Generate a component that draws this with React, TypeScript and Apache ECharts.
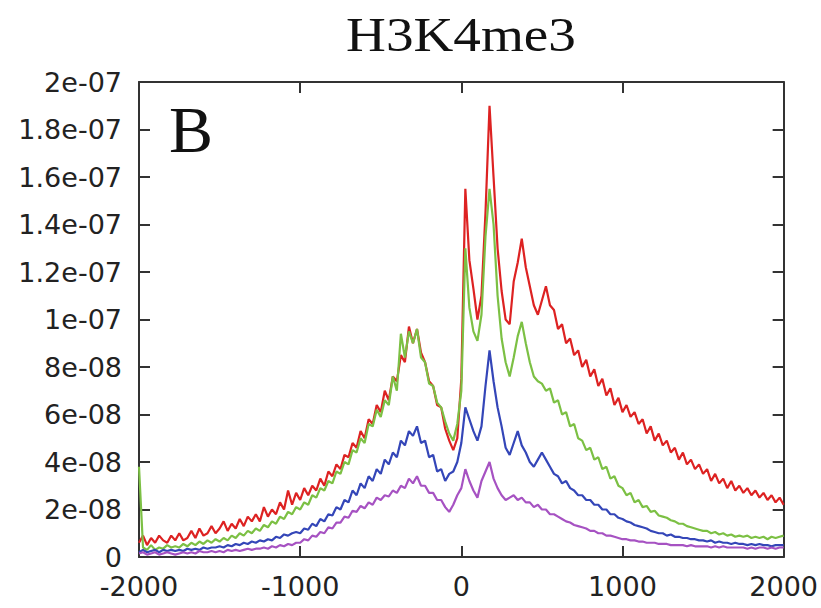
import React, { useEffect, useRef } from "react";
import * as echarts from "echarts";

// Position along the TSS (bp); samples every 25 bp from -2000 to 2000
const X_START = -2000;
const X_STEP = 25;
const X_TICKS = [-2000, -1000, 0, 1000, 2000];
// Signal values in units of 1e-8
const Y_TICK_LABELS = ["0", "2e-08", "4e-08", "6e-08", "8e-08", "1e-07", "1.2e-07", "1.4e-07", "1.6e-07", "1.8e-07", "2e-07"];

const RED = [
  0.6, 0.9, 0.5, 0.8, 0.6, 0.9, 0.7, 0.6, 0.9, 0.7,
  1.0, 0.7, 0.8, 1.1, 0.8, 1.2, 0.9, 1.0, 1.3, 1.0,
  1.2, 1.5, 1.1, 1.4, 1.2, 1.6, 1.3, 1.7, 1.5, 1.8,
  1.5, 2.1, 1.7, 2.0, 1.8, 2.3, 2.0, 2.8, 2.2, 2.7,
  2.4, 2.9, 2.6, 3.0, 2.8, 3.3, 3.0, 3.6, 3.4, 3.9,
  3.7, 4.3, 4.2, 4.8, 4.6, 5.3, 5.0, 5.8, 5.6, 6.4,
  6.1, 7.0, 6.6, 7.6, 7.4, 8.5, 8.2, 9.7, 9.0, 9.6,
  8.6, 8.2, 7.4, 7.2, 6.4, 6.3, 5.4, 4.9, 4.5, 5.0,
  7.5, 15.5, 12.5, 11.3, 10.0, 11.0, 14.5, 19.0, 16.0, 13.0,
  11.2, 10.0, 9.8, 11.6, 12.4, 13.4, 12.2, 11.4, 10.6, 10.2,
  10.8, 11.4, 10.6, 10.4, 9.6, 9.8, 9.0, 9.2, 8.5, 8.7,
  8.0, 8.3, 7.6, 7.9, 7.2, 7.5, 6.8, 7.1, 6.4, 6.7,
  6.1, 6.4, 5.9, 6.1, 5.6, 5.8, 5.2, 5.5, 4.9, 5.2,
  4.7, 4.9, 4.4, 4.6, 4.1, 4.4, 3.9, 4.1, 3.7, 3.9,
  3.5, 3.7, 3.2, 3.5, 3.1, 3.3, 2.9, 3.2, 2.8, 3.0,
  2.7, 2.9, 2.6, 2.8, 2.5, 2.7, 2.4, 2.6, 2.3, 2.5,
  2.2,
];

const GREEN = [
  3.8, 0.4, 0.3, 0.5, 0.3, 0.4, 0.35, 0.5, 0.4, 0.45,
  0.4, 0.55, 0.45, 0.6, 0.5, 0.65, 0.55, 0.7, 0.6, 0.75,
  0.65, 0.8, 0.7, 0.9, 0.8, 1.0, 0.9, 1.1, 1.0, 1.2,
  1.1, 1.35, 1.25, 1.5, 1.4, 1.7, 1.6, 1.9, 1.8, 2.1,
  2.0, 2.3, 2.2, 2.6, 2.5, 2.9, 2.8, 3.2, 3.1, 3.6,
  3.5, 4.0, 3.9, 4.5, 4.4, 5.0, 4.8, 5.6, 5.5, 6.2,
  5.9, 6.6, 6.4, 7.6, 7.0, 9.4, 8.4, 9.5, 9.0, 9.6,
  8.4, 8.2, 7.3, 7.2, 6.5, 6.3, 5.7, 5.2, 4.9, 5.6,
  7.0, 13.0, 10.5, 9.5, 9.1, 10.2, 13.5, 15.5, 14.0, 11.0,
  9.2, 8.2, 7.6, 8.4, 9.3, 9.9, 9.0, 8.2, 7.6, 7.4,
  7.3, 7.0, 7.1, 6.5, 6.6, 6.0, 6.1, 5.5, 5.6, 5.0,
  4.9, 4.5, 4.6, 4.1, 4.2, 3.7, 3.8, 3.3, 3.4, 3.0,
  2.9, 2.6, 2.7, 2.3, 2.4, 2.1, 2.15, 1.9, 1.95, 1.75,
  1.7, 1.65, 1.55, 1.5, 1.4, 1.4, 1.3, 1.25, 1.2, 1.15,
  1.1, 1.1, 1.0, 1.05, 0.95, 1.0, 0.9, 0.95, 0.85, 0.9,
  0.85, 0.9, 0.8, 0.85, 0.8, 0.85, 0.75, 0.85, 0.8, 0.85,
  0.9,
];

const BLUE = [
  0.2, 0.3, 0.2, 0.25, 0.3, 0.2, 0.3, 0.25, 0.3, 0.25,
  0.3, 0.25, 0.35, 0.3, 0.35, 0.3, 0.4, 0.35, 0.4, 0.4,
  0.45, 0.4, 0.5, 0.45, 0.55, 0.5, 0.6, 0.55, 0.65, 0.6,
  0.7, 0.65, 0.75, 0.7, 0.85, 0.8, 0.95, 0.9, 1.0, 1.05,
  1.0, 1.2, 1.15, 1.4, 1.3, 1.6, 1.5, 1.8, 1.75, 2.1,
  2.0, 2.4, 2.3, 2.8, 2.6, 3.1, 2.9, 3.4, 3.2, 3.7,
  3.5, 4.1, 3.9, 4.4, 4.2, 4.9, 4.7, 5.3, 5.1, 5.5,
  4.8, 4.9, 4.2, 4.3, 3.6, 3.7, 3.2, 3.5, 3.6, 4.0,
  4.8, 6.3, 5.8, 5.3, 4.9, 5.5, 7.2, 8.7, 7.4, 6.3,
  5.5, 4.6, 4.3, 4.8, 5.3, 4.7, 4.4, 4.0, 3.8, 4.1,
  4.4, 4.1, 3.8, 3.5, 3.4, 3.1, 3.2, 2.9, 2.8, 2.6,
  2.6, 2.4, 2.4, 2.2, 2.2, 2.0, 2.0, 1.8, 1.8, 1.65,
  1.6, 1.5, 1.45, 1.35, 1.3, 1.25, 1.2, 1.1, 1.05, 1.0,
  1.0, 0.9, 0.95, 0.85, 0.85, 0.8, 0.8, 0.75, 0.75, 0.7,
  0.7, 0.65, 0.7, 0.6, 0.65, 0.6, 0.6, 0.55, 0.6, 0.55,
  0.55, 0.5, 0.55, 0.5, 0.55, 0.5, 0.5, 0.45, 0.5, 0.5,
  0.5,
];

const PURPLE = [
  0.15, 0.2, 0.1, 0.15, 0.2, 0.1, 0.15, 0.2, 0.15, 0.1,
  0.15, 0.2, 0.15, 0.2, 0.15, 0.25, 0.2, 0.2, 0.25, 0.2,
  0.25, 0.2, 0.3, 0.25, 0.3, 0.25, 0.3, 0.35, 0.3, 0.35,
  0.35, 0.4, 0.35, 0.45, 0.4, 0.5, 0.45, 0.55, 0.5, 0.6,
  0.6, 0.75, 0.7, 0.9, 0.85, 1.05, 1.0, 1.25, 1.2, 1.45,
  1.45, 1.7, 1.65, 1.95, 1.9, 2.15, 2.05, 2.3, 2.2, 2.5,
  2.4, 2.6, 2.55, 2.8, 2.7, 3.0, 2.9, 3.3, 3.1, 3.4,
  3.0, 3.0, 2.7, 2.7, 2.4, 2.4, 2.1, 1.9, 2.2, 2.6,
  2.9, 3.7, 3.2, 2.8, 2.5, 3.2, 3.6, 4.0, 3.3, 2.9,
  2.6, 2.4, 2.5, 2.6, 2.4, 2.5, 2.3, 2.3, 2.1, 2.2,
  2.0, 2.0, 1.8, 1.8, 1.7, 1.6, 1.5, 1.45, 1.35, 1.3,
  1.25, 1.2, 1.1, 1.1, 1.0, 1.0, 0.9, 0.9, 0.85, 0.8,
  0.75, 0.75, 0.7, 0.7, 0.65, 0.65, 0.6, 0.6, 0.6, 0.55,
  0.55, 0.55, 0.5, 0.5, 0.5, 0.5, 0.45, 0.5, 0.45, 0.45,
  0.45, 0.45, 0.4, 0.45, 0.4, 0.45, 0.4, 0.4, 0.4, 0.4,
  0.4, 0.35, 0.4, 0.35, 0.4, 0.4, 0.35, 0.4, 0.35, 0.4,
  0.4,
];

const SERIES = [
  { name: "red", values: RED, color: "#dd2222" },
  { name: "green", values: GREEN, color: "#7cc044" },
  { name: "blue", values: BLUE, color: "#3446b8" },
  { name: "purple", values: PURPLE, color: "#a652c2" },
];

const AXIS_COLOR = "#333333";
const LABEL_FONT = "DejaVu Sans";
const LABEL_SIZE = 27;

export default function App() {
  const ref = useRef<HTMLDivElement>(null);

  useEffect(() => {
    if (!ref.current) return;
    const chart = echarts.init(ref.current, undefined, { renderer: "svg" });

    const axisLine = { show: true, onZero: false, lineStyle: { color: AXIS_COLOR, width: 2 } };
    const axisTick = { show: true, inside: true, length: 11, lineStyle: { color: AXIS_COLOR, width: 2 } };
    const xBase = {
      type: "value" as const,
      min: X_TICKS[0],
      max: X_TICKS[X_TICKS.length - 1],
      interval: 1000,
      axisLine,
      axisTick,
      splitLine: { show: false },
    };
    const yBase = {
      type: "value" as const,
      min: 0,
      max: 20,
      interval: 2,
      axisLine,
      axisTick,
      splitLine: { show: false },
    };

    chart.setOption({
      animation: false,
      backgroundColor: "#ffffff",
      grid: { left: 139, right: 37, top: 82, bottom: 51, containLabel: false },
      xAxis: [
        {
          ...xBase,
          position: "bottom",
          axisLabel: {
            show: true,
            fontSize: LABEL_SIZE,
            color: "#222",
            fontFamily: LABEL_FONT,
            margin: 16,
            formatter: (v: number) => String(v),
          },
        },
        { ...xBase, position: "top", axisLabel: { show: false } },
      ],
      yAxis: [
        {
          ...yBase,
          position: "left",
          axisLabel: {
            show: true,
            fontSize: LABEL_SIZE,
            color: "#222",
            fontFamily: LABEL_FONT,
            margin: 17,
            formatter: (v: number) => Y_TICK_LABELS[Math.round(v / 2)] ?? "",
          },
        },
        { ...yBase, position: "right", axisLabel: { show: false } },
      ],
      graphic: [
        {
          type: "text",
          x: 461,
          y: 35,
          scaleX: 1.15,
          style: {
            text: "H3K4me3",
            fontSize: 48,
            fontFamily: "Liberation Serif",
            fill: "#111",
            textAlign: "center",
            textVerticalAlign: "middle",
          },
        },
        {
          type: "text",
          x: 169,
          y: 129,
          style: {
            text: "B",
            fontSize: 66,
            fontFamily: "Liberation Serif",
            fill: "#111",
            textAlign: "left",
            textVerticalAlign: "middle",
          },
        },
      ],
      series: SERIES.map((s) => ({
        name: s.name,
        type: "line",
        xAxisIndex: 0,
        yAxisIndex: 0,
        showSymbol: false,
        symbol: "none",
        data: s.values.map((v, i) => [X_START + i * X_STEP, v]),
        lineStyle: { color: s.color, width: 2.2 },
        itemStyle: { color: s.color },
      })),
    });

    return () => chart.dispose();
  }, []);

  return (
    <div
      ref={ref}
      style={{ position: "fixed", left: 0, top: 0, width: 821, height: 608, background: "#fff" }}
    />
  );
}
